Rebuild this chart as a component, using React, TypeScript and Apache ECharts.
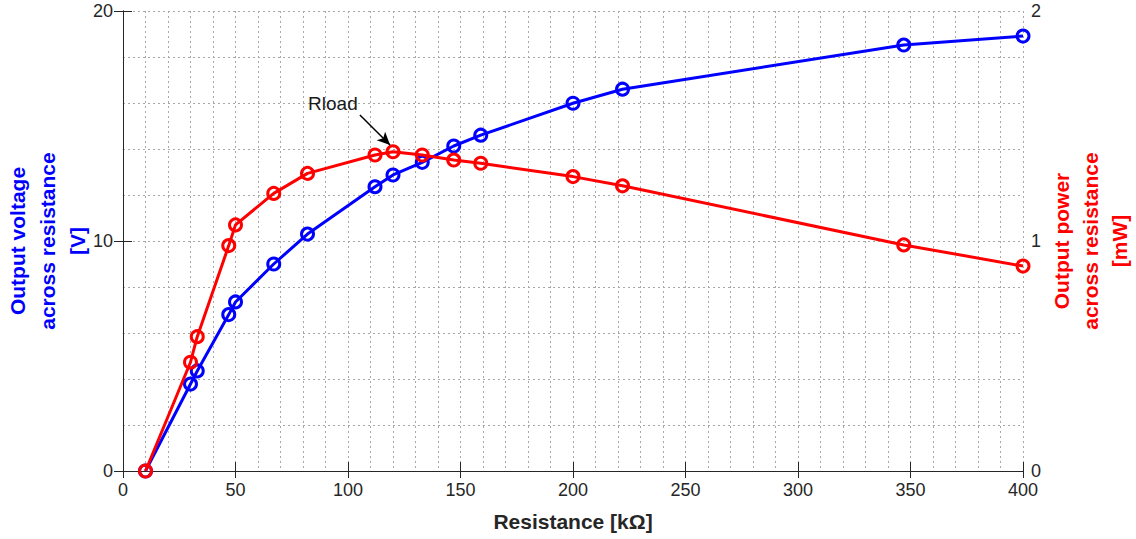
import React, { useEffect, useRef } from "react";
import * as echarts from "echarts";

const resistance = [10, 30, 33, 47, 50, 67, 82, 112, 120, 133, 147, 159, 200, 222, 347, 400];
const voltage = [0, 3.78, 4.35, 6.8, 7.35, 9.0, 10.3, 12.36, 12.87, 13.42, 14.13, 14.6, 15.99, 16.6, 18.52, 18.91];
const power = [0, 0.473, 0.584, 0.98, 1.07, 1.207, 1.294, 1.374, 1.388, 1.374, 1.352, 1.338, 1.28, 1.24, 0.983, 0.891];

const xTicks = { min: 0, max: 400, interval: 50 };
const leftTicks = { min: 0, max: 20, interval: 10 };
const rightTicks = { min: 0, max: 2, interval: 1 };

const annotationText = "Rload";
const annotationLabelAt = [93.3, 1.6];
const arrowFrom = [105.3, 1.548];
const arrowTo = [118.7, 1.417];

const FONT = "'Liberation Sans', Arial, sans-serif";
const AXIS_COLOR = "#262626";
const GRID_LINE = { color: "#a8a8a8", type: [2, 3] as any, width: 1 };

export default function App() {
  const ref = useRef<HTMLDivElement>(null);
  useEffect(() => {
    if (!ref.current) return;
    const chart = echarts.init(ref.current, undefined, { renderer: "svg" });
    const vData = resistance.map((r, i) => [r, voltage[i]]);
    const pData = resistance.map((r, i) => [r, power[i]]);
    chart.setOption({
      animation: false,
      textStyle: { fontFamily: FONT },
      grid: { left: 123, right: 113, top: 11, bottom: 68, containLabel: false, outerBoundsMode: "none" },
      xAxis: [
        {
          type: "value",
          min: xTicks.min,
          max: xTicks.max,
          interval: xTicks.interval,
          position: "bottom",
          name: "Resistance [kΩ]",
          nameLocation: "middle",
          nameGap: 40,
          nameMoveOverlap: false,
          nameTextStyle: { fontSize: 21, fontWeight: "bold", color: AXIS_COLOR, fontFamily: FONT },
          axisLine: { show: true, lineStyle: { color: AXIS_COLOR, width: 1 } },
          axisTick: { show: true, inside: true, length: 9, lineStyle: { color: AXIS_COLOR } },
          axisLabel: { fontSize: 18, color: AXIS_COLOR, margin: 10, fontFamily: FONT },
          splitLine: { show: true, lineStyle: GRID_LINE },
          minorTick: { show: false, splitNumber: 5 },
          minorSplitLine: { show: true, lineStyle: GRID_LINE },
        },
        {
          type: "value",
          min: xTicks.min,
          max: xTicks.max,
          interval: xTicks.interval,
          position: "top",
          axisLine: { show: false },
          axisTick: { show: true, inside: true, length: 7, lineStyle: { color: AXIS_COLOR } },
          axisLabel: { show: false },
          splitLine: { show: false },
        },
      ],
      yAxis: [
        {
          type: "value",
          min: leftTicks.min,
          max: leftTicks.max,
          interval: leftTicks.interval,
          position: "left",
          name: "Output voltage\nacross resistance\n[V]",
          nameLocation: "middle",
          nameRotate: 90,
          nameGap: 31,
          nameMoveOverlap: false,
          nameTextStyle: { fontSize: 21, fontWeight: "bold", color: "#0000ff", lineHeight: 30, fontFamily: FONT },
          axisLine: { show: true, lineStyle: { color: AXIS_COLOR, width: 1 } },
          axisTick: { show: true, inside: true, length: 9, lineStyle: { color: AXIS_COLOR } },
          axisLabel: { fontSize: 18, color: AXIS_COLOR, margin: 10, fontFamily: FONT },
          splitLine: { show: true, lineStyle: GRID_LINE },
          minorTick: { show: false, splitNumber: 5 },
          minorSplitLine: { show: true, lineStyle: GRID_LINE },
        },
        {
          type: "value",
          min: rightTicks.min,
          max: rightTicks.max,
          interval: rightTicks.interval,
          position: "right",
          name: "Output power\nacross resistance\n[mW]",
          nameLocation: "middle",
          nameRotate: 90,
          nameGap: 24,
          nameMoveOverlap: false,
          nameTextStyle: { fontSize: 21, fontWeight: "bold", color: "#ff0000", lineHeight: 29, fontFamily: FONT },
          axisLine: { show: true, lineStyle: { color: AXIS_COLOR, width: 1 } },
          axisTick: { show: true, inside: true, length: 9, lineStyle: { color: AXIS_COLOR } },
          axisLabel: { fontSize: 18, color: AXIS_COLOR, margin: 8, fontFamily: FONT },
          splitLine: { show: false },
        },
      ],
      series: [
        {
          type: "line",
          name: "Voltage",
          xAxisIndex: 0,
          yAxisIndex: 0,
          data: vData,
          symbol: "circle",
          symbolSize: 12,
          lineStyle: { color: "#0000ff", width: 3 },
          itemStyle: { color: "rgba(0,0,0,0)", borderColor: "#0000ff", borderWidth: 3 },
          clip: false,
          z: 3,
        },
        {
          type: "line",
          name: "Power",
          xAxisIndex: 0,
          yAxisIndex: 1,
          data: pData,
          symbol: "circle",
          symbolSize: 12,
          lineStyle: { color: "#ff0000", width: 3 },
          itemStyle: { color: "rgba(0,0,0,0)", borderColor: "#ff0000", borderWidth: 3 },
          clip: false,
          z: 4,
          markPoint: {
            silent: true,
            symbol: "circle",
            symbolSize: 0,
            data: [
              {
                coord: annotationLabelAt,
                label: {
                  show: true,
                  formatter: annotationText,
                  position: "inside",
                  color: "#1a1a1a",
                  fontSize: 19,
                  fontFamily: FONT,
                },
              },
            ],
          },
          markLine: {
            silent: true,
            symbol: ["none", "arrow"],
            symbolSize: [9, 13],
            label: { show: false },
            lineStyle: { color: "#000000", width: 1.5, type: "solid" },
            data: [[{ coord: arrowFrom }, { coord: arrowTo }]],
          },
        },
      ],
    });
    return () => chart.dispose();
  }, []);
  return (
    <div
      ref={ref}
      style={{ position: "fixed", left: 0, top: 0, width: 1136, height: 539, background: "#ffffff" }}
    />
  );
}
